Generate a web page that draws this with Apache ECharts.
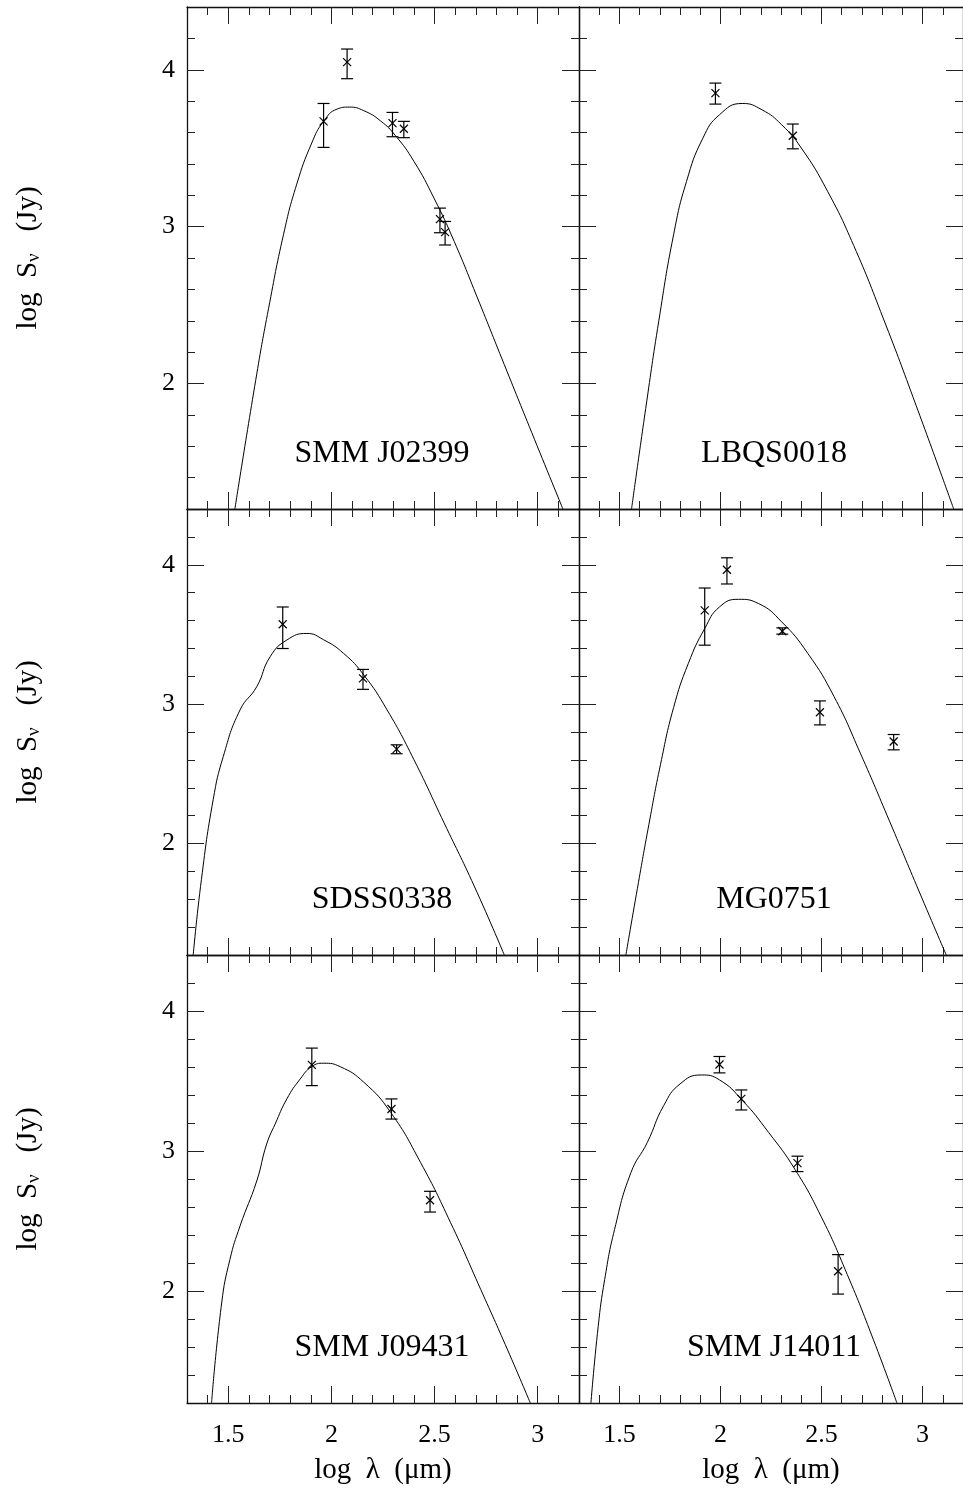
<!DOCTYPE html>
<html lang="en">
<head>
    <meta charset="utf-8">
    <title>SED fits</title>
    <script src="https://cdn.jsdelivr.net/npm/echarts@6/dist/echarts.min.js"></script>
    <style>
        html, body { margin: 0; padding: 0; background: #fff; }
        #chart { width: 963px; height: 1493px; }
    </style>
</head>
<body>
<div id="chart"></div>
<script type="text/javascript">
    // tick values
    var xMajor = [1.5, 2, 2.5, 3];
    var xMinor = [1.4, 1.6, 1.7, 1.8, 1.9, 2.1, 2.2, 2.3, 2.4, 2.6, 2.7, 2.8, 2.9, 3.1];
    var yMajor = [2, 3, 4];
    var yMinor = [1.4, 1.6, 1.8, 2.2, 2.4, 2.6, 2.8, 3.2, 3.4, 3.6, 3.8, 4.2];

    var panelNames = ['SMM J02399', 'LBQS0018', 'SDSS0338', 'MG0751', 'SMM J09431', 'SMM J14011'];

    // SMM J02399
    var j02399X  = [1.962, 2.076, 2.296, 2.351, 2.526, 2.551];
    var j02399Y  = [3.671, 4.049, 3.660, 3.624, 3.048, 2.965];
    var j02399Lo = [3.505, 3.943, 3.573, 3.567, 2.961, 2.883];
    var j02399Hi = [3.785, 4.132, 3.728, 3.671, 3.118, 3.033];
    var j02399CurveX = [1.532, 1.638, 1.695, 1.768, 1.832, 1.905, 1.962, 2.027, 2.087, 2.157, 2.238, 2.311, 2.400, 2.497, 2.595, 2.708, 2.838, 2.984, 3.122];
    var j02399CurveY = [1.200, 2.060, 2.476, 2.951, 3.271, 3.534, 3.671, 3.749, 3.762, 3.739, 3.674, 3.579, 3.416, 3.182, 2.906, 2.545, 2.120, 1.645, 1.200];

    // LBQS0018
    var lbqsX  = [1.975, 2.358];
    var lbqsY  = [3.851, 3.579];
    var lbqsLo = [3.781, 3.496];
    var lbqsHi = [3.915, 3.654];
    var lbqsCurveX = [1.560, 1.630, 1.695, 1.768, 1.832, 1.913, 1.995, 2.108, 2.205, 2.303, 2.400, 2.530, 2.659, 2.805, 2.968, 3.154];
    var lbqsCurveY = [1.200, 1.840, 2.400, 2.948, 3.288, 3.564, 3.713, 3.785, 3.745, 3.649, 3.501, 3.225, 2.880, 2.417, 1.860, 1.200];

    // SDSS0338
    var sdssX  = [1.764, 2.153, 2.316];
    var sdssY  = [3.573, 3.185, 2.677];
    var sdssLo = [3.399, 3.106, 2.644];
    var sdssHi = [3.697, 3.249, 2.708];
    var sdssCurveX = [1.330, 1.370, 1.427, 1.476, 1.557, 1.638, 1.703, 1.784, 1.881, 1.962, 2.059, 2.157, 2.270, 2.400, 2.546, 2.692, 2.838];
    var sdssCurveY = [1.200, 1.743, 2.315, 2.625, 2.958, 3.125, 3.340, 3.460, 3.507, 3.462, 3.364, 3.209, 2.958, 2.601, 2.148, 1.695, 1.200];

    // MG0751
    var mgX  = [1.922, 2.032, 2.306, 2.492, 2.857];
    var mgY  = [3.673, 3.964, 3.523, 2.942, 2.732];
    var mgLo = [3.423, 3.862, 3.502, 2.851, 2.672];
    var mgHi = [3.833, 4.050, 3.547, 3.023, 2.782];
    var mgCurveX = [1.532, 1.589, 1.646, 1.703, 1.768, 1.841, 1.922, 1.995, 2.089, 2.189, 2.303, 2.432, 2.562, 2.692, 2.838, 2.984, 3.117];
    var mgCurveY = [1.200, 1.678, 2.138, 2.565, 2.975, 3.292, 3.542, 3.697, 3.752, 3.721, 3.590, 3.364, 3.054, 2.648, 2.155, 1.652, 1.200];

    // SMM J09431
    var j09431X  = [1.905, 2.291, 2.478];
    var j09431Y  = [3.615, 3.300, 2.648];
    var j09431Lo = [3.467, 3.228, 2.564];
    var j09431Hi = [3.735, 3.372, 2.712];
    var j09431CurveX = [1.419, 1.468, 1.508, 1.557, 1.638, 1.686, 1.727, 1.784, 1.849, 1.905, 1.962, 2.043, 2.157, 2.287, 2.432, 2.578, 2.724, 2.854, 2.964];
    var j09431CurveY = [1.200, 1.914, 2.225, 2.464, 2.786, 3.049, 3.192, 3.372, 3.515, 3.603, 3.627, 3.602, 3.491, 3.276, 2.918, 2.487, 2.010, 1.579, 1.200];

    // SMM J14011
    var j14011X  = [1.995, 2.103, 2.381, 2.582];
    var j14011Y  = [3.618, 3.372, 2.913, 2.141];
    var j14011Lo = [3.558, 3.293, 2.853, 1.978];
    var j14011Hi = [3.675, 3.436, 2.963, 2.260];
    var j14011CurveX = [1.359, 1.395, 1.427, 1.476, 1.557, 1.638, 1.719, 1.800, 1.905, 1.995, 2.108, 2.238, 2.368, 2.497, 2.627, 2.757, 2.873];
    var j14011CurveY = [1.200, 1.747, 2.081, 2.440, 2.846, 3.061, 3.324, 3.479, 3.543, 3.508, 3.362, 3.133, 2.870, 2.535, 2.119, 1.651, 1.200];

    var points = [
        [j02399X, j02399Y, j02399Lo, j02399Hi],
        [lbqsX, lbqsY, lbqsLo, lbqsHi],
        [sdssX, sdssY, sdssLo, sdssHi],
        [mgX, mgY, mgLo, mgHi],
        [j09431X, j09431Y, j09431Lo, j09431Hi],
        [j14011X, j14011Y, j14011Lo, j14011Hi]
    ];
    var curves = [
        [j02399CurveX, j02399CurveY],
        [lbqsCurveX, lbqsCurveY],
        [sdssCurveX, sdssCurveY],
        [mgCurveX, mgCurveY],
        [j09431CurveX, j09431CurveY],
        [j14011CurveX, j14011CurveY]
    ];

    var serif = 'Liberation Serif';
    var frame = {show: true, onZero: false, lineStyle: {color: '#111', width: 1.3}};
    var tickStyle = {color: '#222', width: 1};

    // panel layout: two columns, three rows
    var colLeft = [187, 579];
    var colWidth = 392;
    var rowTop = [7, 509, 955];
    var rowHeight = [502, 446, 448];

    var grids = [], xAxes = [], yAxes = [], series = [], graphics = [];

    function xSet(gi, labels) {
        var base = {type: 'value', gridIndex: gi, min: 1.3, max: 3.2, splitLine: {show: false}};
        return [
            Object.assign({}, base, {
                position: 'bottom', axisLine: frame,
                axisTick: {inside: true, length: 17, customValues: xMajor, lineStyle: tickStyle},
                axisLabel: {show: labels, customValues: xMajor, margin: 19, fontFamily: serif, fontSize: 26, color: '#000'},
                name: labels ? 'log  \u03bb  (\u03bcm)' : '', nameLocation: 'middle', nameGap: 53,
                nameTextStyle: {fontFamily: serif, fontSize: 29, color: '#000'}
            }),
            Object.assign({}, base, {
                position: 'bottom', axisLine: {show: false},
                axisTick: {inside: true, length: 8, customValues: xMinor, lineStyle: tickStyle},
                axisLabel: {show: false}
            }),
            Object.assign({}, base, {
                position: 'top', axisLine: frame,
                axisTick: {inside: true, length: 17, customValues: xMajor, lineStyle: tickStyle},
                axisLabel: {show: false}
            }),
            Object.assign({}, base, {
                position: 'top', axisLine: {show: false},
                axisTick: {inside: true, length: 8, customValues: xMinor, lineStyle: tickStyle},
                axisLabel: {show: false}
            })
        ];
    }

    function ySet(gi, labels) {
        var base = {type: 'value', gridIndex: gi, min: 1.2, max: 4.4, splitLine: {show: false}};
        return [
            Object.assign({}, base, {
                position: 'left', axisLine: frame,
                axisTick: {inside: true, length: 17, customValues: yMajor, lineStyle: tickStyle},
                axisLabel: {show: labels, customValues: yMajor, margin: 12, fontFamily: serif, fontSize: 26, color: '#000'},
                name: labels ? '{n|log  S}{s|\u03bd}{n|   (Jy)}' : '', nameLocation: 'middle', nameGap: 143,
                nameTextStyle: {
                    fontFamily: serif, fontSize: 29, color: '#000',
                    rich: {
                        n: {fontFamily: serif, fontSize: 29, lineHeight: 32, color: '#000'},
                        s: {fontFamily: serif, fontSize: 19, lineHeight: 12, verticalAlign: 'bottom', color: '#000'}
                    }
                }
            }),
            Object.assign({}, base, {
                position: 'left', axisLine: {show: false},
                axisTick: {inside: true, length: 8, customValues: yMinor, lineStyle: tickStyle},
                axisLabel: {show: false}
            }),
            Object.assign({}, base, {
                position: 'right', axisLine: frame,
                axisTick: {inside: true, length: 17, customValues: yMajor, lineStyle: tickStyle},
                axisLabel: {show: false}
            }),
            Object.assign({}, base, {
                position: 'right', axisLine: {show: false},
                axisTick: {inside: true, length: 8, customValues: yMinor, lineStyle: tickStyle},
                axisLabel: {show: false}
            })
        ];
    }

    // error bar with an x marker
    function renderPoint(params, api) {
        var x = api.value(0);
        var c = api.coord([x, api.value(1)]);
        var lo = api.coord([x, api.value(2)]);
        var hi = api.coord([x, api.value(3)]);
        var cap = 6, m = 4;
        var st = {stroke: '#000', lineWidth: 1.2};
        return {
            type: 'group',
            children: [
                {type: 'line', shape: {x1: c[0], y1: hi[1], x2: c[0], y2: lo[1]}, style: st},
                {type: 'line', shape: {x1: c[0] - cap, y1: hi[1], x2: c[0] + cap, y2: hi[1]}, style: st},
                {type: 'line', shape: {x1: c[0] - cap, y1: lo[1], x2: c[0] + cap, y2: lo[1]}, style: st},
                {type: 'line', shape: {x1: c[0] - m, y1: c[1] - m, x2: c[0] + m, y2: c[1] + m}, style: st},
                {type: 'line', shape: {x1: c[0] - m, y1: c[1] + m, x2: c[0] + m, y2: c[1] - m}, style: st}
            ]
        };
    }

    for (var i = 0; i < 6; i++) {
        var col = i % 2, row = Math.floor(i / 2);
        grids.push({left: colLeft[col], top: rowTop[row], width: colWidth, height: rowHeight[row], containLabel: false});
        xAxes = xAxes.concat(xSet(i, row === 2));
        yAxes = yAxes.concat(ySet(i, col === 0));

        var cx = curves[i][0], cy = curves[i][1], line = [];
        for (var k = 0; k < cx.length; k++) line.push([cx[k], cy[k]]);
        series.push({
            type: 'line', xAxisIndex: 4 * i, yAxisIndex: 4 * i, data: line,
            showSymbol: false, smooth: 0.5, clip: true,
            lineStyle: {color: '#000', width: 1}, silent: true
        });

        var p = points[i], pts = [];
        for (var k = 0; k < p[0].length; k++) pts.push([p[0][k], p[1][k], p[2][k], p[3][k]]);
        series.push({
            type: 'custom', xAxisIndex: 4 * i, yAxisIndex: 4 * i, data: pts,
            encode: {x: 0, y: 1}, renderItem: renderPoint, silent: true
        });

        graphics.push({
            type: 'text',
            x: colLeft[col] + colWidth / 2 - 1,
            y: rowTop[row] + rowHeight[row] - 55,
            style: {
                text: panelNames[i], fontFamily: serif, fontSize: 32, fill: '#000',
                align: 'center', verticalAlign: 'middle'
            }
        });
    }

    var chart = echarts.init(document.getElementById('chart'), null, {renderer: 'canvas'});
    chart.setOption({
        animation: false,
        backgroundColor: '#fff',
        grid: grids,
        xAxis: xAxes,
        yAxis: yAxes,
        series: series,
        graphic: graphics
    });
</script>
</body>
</html>
